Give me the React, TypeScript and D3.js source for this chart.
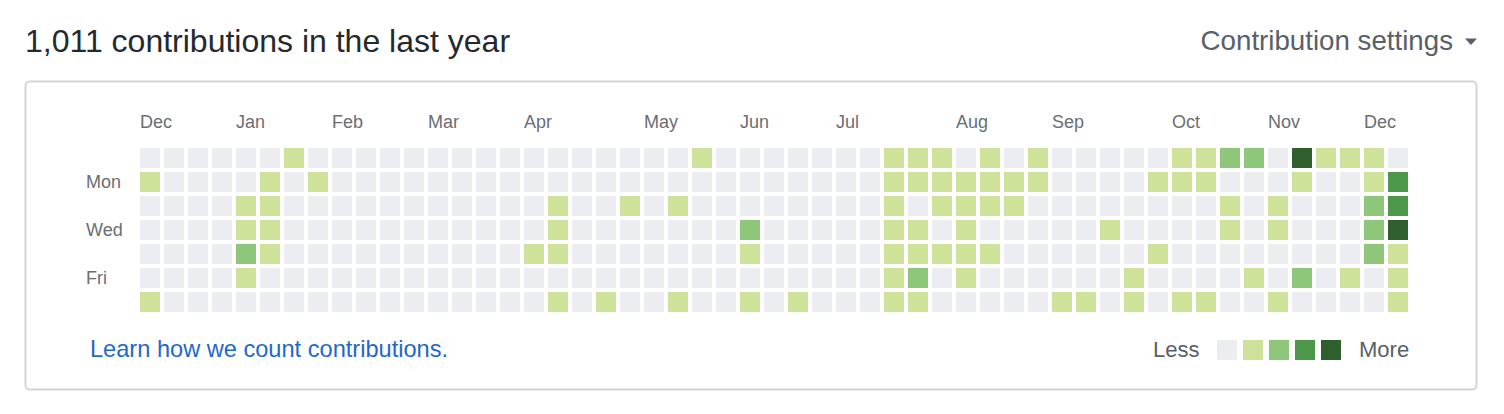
import * as d3 from "d3";

// contribution level per weekday row (Sun..Sat), one char per week, 53 weeks
const sunRow = "000000" + "1" + "0000000000000000" + "1" + "0000000" + "1110101" + "00000" + "1122041110";
const monRow = "1000010" + "1" + "00000000000000000000000" + "1111111" + "0000" + "111" + "000" + "1" + "00" + "13";
const tueRow = "0000" + "11" + "00000000000" + "1" + "00" + "1" + "0" + "1" + "00000000" + "1" + "0" + "1111" + "00000000" + "1" + "0" + "1" + "000" + "2" + "3";
const wedRow = "0000" + "11" + "00000000000" + "1" + "0000000" + "2" + "00000" + "1" + "1" + "0" + "1" + "00000" + "1" + "0000" + "1" + "0" + "1" + "000" + "2" + "4";
const thuRow = "0000" + "2" + "1" + "0000000000" + "11" + "0000000" + "1" + "00000" + "11111" + "000000" + "1" + "00000000" + "2" + "1";
const friRow = "0000" + "1" + "00000000000000000000000000" + "1" + "2" + "0" + "1" + "000000" + "1" + "0000" + "1" + "0" + "2" + "0" + "1" + "0" + "1";
const satRow = "1" + "0000000000000000" + "1" + "0" + "1" + "00" + "1" + "00" + "1" + "0" + "1" + "000" + "11" + "00000" + "11" + "0" + "1" + "0" + "11" + "00" + "1" + "0000" + "1";

const rows = [sunRow, monRow, tueRow, wedRow, thuRow, friRow, satRow];

const months = ["Dec", "Jan", "Feb", "Mar", "Apr", "May", "Jun", "Jul", "Aug", "Sep", "Oct", "Nov", "Dec"];
const monthWeeks = [0, 4, 8, 12, 16, 21, 25, 29, 34, 38, 43, 47, 51];

const dayLabels = ["Mon", "Wed", "Fri"];
const dayRows = [1, 3, 5];

const levelColors = ["#ebedf0", "#cfe299", "#8ec67a", "#4c9749", "#2e5f2d"];

const WIDTH = 1504;
const HEIGHT = 414;
const font = "'Liberation Sans', Arial, Helvetica, sans-serif";

export default function App() {
    const nWeeks = rows[0].length;

    const x = d3.scaleBand<number>()
        .domain(d3.range(nWeeks))
        .range([140, 140 + 24 * nWeeks - 4])
        .paddingInner(4 / 24);

    const y = d3.scaleBand<number>()
        .domain(d3.range(7))
        .range([148, 148 + 24 * 7 - 4])
        .paddingInner(4 / 24);

    const color = d3.scaleOrdinal<number, string>()
        .domain([0, 1, 2, 3, 4])
        .range(levelColors);

    const cells: {w: number; d: number; level: number}[] = [];
    rows.forEach((row, d) => {
        row.split("").forEach((ch, w) => cells.push({w, d, level: +ch}));
    });

    const legendX = d3.scaleBand<number>()
        .domain([0, 1, 2, 3, 4])
        .range([1217, 1217 + 26 * 5 - 6])
        .paddingInner(6 / 26);

    return (
        <svg width={WIDTH} height={HEIGHT} style={{position: "absolute", left: 0, top: 0}} fontFamily={font}>
            <rect x={0} y={0} width={WIDTH} height={HEIGHT} fill="#fff" />
            <text x={25} y={52} fontSize={32} fill="#24292e">1,011 contributions in the last year</text>
            <text x={1453} y={50} fontSize={27.7} fill="#586069" textAnchor="end">Contribution settings</text>
            <path d="M1465,38.5 L1477,38.5 L1471,45 Z" fill="#586069" />

            <rect x={25.5} y={81.5} width={1451} height={308} rx={4} fill="#fff" stroke="#d1d5da" strokeWidth={2} />

            {months.map((m, i) => (
                <text key={"m" + i} x={x(monthWeeks[i])} y={128} fontSize={18} fill="#6a6e73">{m}</text>
            ))}
            {dayLabels.map((dl, i) => (
                <text key={"d" + i} x={86} y={y(dayRows[i])! + 16} fontSize={18} fill="#6a6e73">{dl}</text>
            ))}

            {cells.map((c, i) => (
                <rect key={i} x={x(c.w)} y={y(c.d)} width={x.bandwidth()} height={y.bandwidth()} fill={color(c.level)} />
            ))}

            <text x={90} y={357} fontSize={23.6} fill="#1f68c9">Learn how we count contributions.</text>

            <text x={1153} y={357} fontSize={22} fill="#586069">Less</text>
            {levelColors.map((_, i) => (
                <rect key={"l" + i} x={legendX(i)} y={340} width={legendX.bandwidth()} height={20} fill={color(i)} />
            ))}
            <text x={1359} y={357} fontSize={22} fill="#586069">More</text>
        </svg>
    );
}
